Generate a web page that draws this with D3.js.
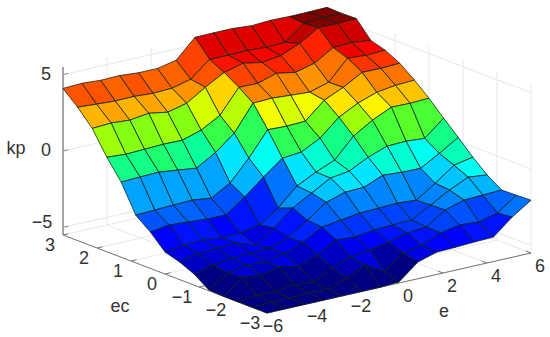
<!DOCTYPE html>
<html>
<head>
<meta charset="utf-8">
<script src="https://cdn.jsdelivr.net/npm/d3@7"></script>
<style>
html, body { margin: 0; padding: 0; background: #fff; }
text { font-family: "Liberation Sans", Arial, sans-serif; font-size: 18px; fill: #333; }
</style>
</head>
<body>
<svg id="chart" width="550" height="337"></svg>
<script>
var eGrid = [-6, -5.14, -4.29, -3.43, -2.57, -1.71, -0.86, 0, 0.86, 1.71, 2.57, 3.43, 4.29, 5.14, 6];
var ecGrid = [3, 2.57, 2.14, 1.71, 1.29, 0.86, 0.43, 0, -0.43, -0.86, -1.29, -1.71, -2.14, -2.57, -3];

// one row per ecGrid value, one column per eGrid value
var kpRows = [
    [4.1, 4.15, 4.07, 4.1, 4.0, 4.0, 4.26, 5.48, 5.5, 5.5, 5.4, 5.47, 5.44, 5.45, 5.48],
    [3.23, 3.15, 3.08, 3.1, 3.02, 3.07, 3.38, 4.4, 4.39, 4.43, 4.35, 4.4, 5.35, 5.47, 5.45],
    [2.21, 2.28, 2.19, 2.36, 2.15, 2.45, 3.22, 3.91, 4.23, 4.0, 4.17, 4.69, 5.45, 5.43, 5.48],
    [0.69, 0.6, 0.65, 0.7, 0.68, 1.06, 1.75, 3.3, 3.28, 3.66, 3.44, 3.75, 4.5, 4.56, 4.41],
    [-0.58, -0.53, -0.49, -0.64, -0.79, -0.05, 0.94, 2.62, 2.67, 2.58, 2.5, 2.87, 4.16, 4.07, 4.13],
    [-2.38, -2.33, -2.28, -2.24, -2.39, -1.68, -0.33, 1.25, 1.2, 1.25, 2.34, 2.9, 3.6, 3.58, 3.64],
    [-3.12, -2.94, -3.03, -3.11, -3.13, -2.23, -1.21, -0.25, -0.13, 0.5, 1.59, 2.23, 2.66, 2.84, 2.9],
    [-4.06, -3.89, -3.84, -3.99, -3.94, -3.7, -2.87, -1.7, -1.08, -0.57, 0.72, 1.48, 2.05, 2.03, 2.08],
    [-4.35, -4.04, -4.0, -3.95, -4.36, -3.53, -2.5, -1.8, -1.1, -0.92, -0.3, 0.15, 0.19, 0.1, 1.14],
    [-4.78, -4.47, -4.3, -4.25, -4.2, -3.8, -2.93, -2.04, -1.66, -1.62, -1.11, -1.2, -1.22, -0.52, 0.25],
    [-5.45, -4.62, -4.38, -4.47, -4.2, -3.72, -3.02, -2.84, -2.66, -2.62, -2.57, -2.66, -1.83, -0.93, -0.68],
    [-5.5, -4.58, -4.67, -4.43, -4.71, -4.2, -3.5, -3.58, -3.41, -3.36, -3.32, -2.62, -1.92, -1.35, -1.49],
    [-5.5, -5.33, -5.4, -5.2, -5.32, -4.68, -4.25, -4.07, -3.83, -3.52, -3.41, -2.58, -2.21, -2.16, -2.11],
    [-5.5, -5.45, -5.45, -5.4, -5.45, -4.98, -4.4, -5.1, -4.18, -3.94, -3.43, -3.19, -3.28, -2.97, -2.08],
    [-5.5, -5.5, -5.5, -5.5, -5.5, -5.5, -5.5, -5.43, -4.41, -4.04, -4.0, -3.94, -3.9, -2.87, -2.04]
];

var eTicks = [-6, -4, -2, 0, 2, 4, 6];
var ecTicks = [-3, -2, -1, 0, 1, 2, 3];
var kpTicks = [-5, 0, 5];
var eTickLabels = ['\u22126', '\u22124', '\u22122', '0', '2', '4', '6'];
var ecTickLabels = ['\u22123', '\u22122', '\u22121', '0', '1', '2', '3'];
var kpTickLabels = ['\u22125', '0', '5'];

var svg = d3.select('#chart');

// oblique projection: every data axis moves the point along a fixed screen direction
var eX = d3.scaleLinear().domain([-6, 6]).range([0, 264]);
var eY = d3.scaleLinear().domain([-6, 6]).range([0, -60]);
var ecX = d3.scaleLinear().domain([3, -3]).range([63, 267]);
var ecY = d3.scaleLinear().domain([3, -3]).range([235, 313]);
var kpY = d3.scaleLinear().domain([-5.5, 5.5]).range([0, -168]);

function project(e, ec, kp) {
    return [ecX(ec) + eX(e), ecY(ec) + eY(e) + kpY(kp)];
}

function line(points, color, width) {
    svg.append('path')
        .attr('d', d3.line()(points))
        .attr('fill', 'none')
        .attr('stroke', color)
        .attr('stroke-width', width);
}

// jet colormap, 64 levels. The greens of the reference are more saturated than plain jet
var jet = function(t) {
    var level = Math.min(63, Math.floor(t * 64)) / 63;
    var channel = function(c) { return Math.max(0, Math.min(1, 1.5 - Math.abs(4 * level - c))); };
    var r = channel(3), g = channel(2), b = channel(1);
    if (g >= 1) {
        r = r * r;
        b = b * b;
    }
    return d3.rgb(r * 255, g * 255, b * 255);
};
var colorScale = d3.scaleLinear().domain([-5.5, 5.5]).range([0, 1]).clamp(true);

var gridColor = '#e8e8e8';
var axisColor = '#8c8c8c';

// walls and floor
eTicks.forEach(function(e) {
    line([project(e, 3, -5.5), project(e, 3, 5.5)], gridColor, 1);
    line([project(e, -3, -5.5), project(e, 3, -5.5)], gridColor, 1);
});
ecTicks.forEach(function(ec) {
    line([project(6, ec, -5.5), project(6, ec, 5.5)], gridColor, 1);
    line([project(-6, ec, -5.5), project(6, ec, -5.5)], gridColor, 1);
});
kpTicks.forEach(function(kp) {
    line([project(-6, 3, kp), project(6, 3, kp), project(6, -3, kp)], gridColor, 1);
});

// axes
line([project(-6, 3, -5.5), project(-6, 3, 5.5)], axisColor, 1.5);
line([project(-6, 3, -5.5), project(-6, -3, -5.5)], '#777', 1);
line([project(-6, -3, -5.5), project(6, -3, -5.5)], '#777', 1);
kpTicks.forEach(function(kp) {
    line([project(-6, 3, kp), project(-5.75, 3, kp)], axisColor, 1);
});
ecTicks.forEach(function(ec) {
    line([project(-6, ec, -5.5), project(-5.75, ec, -5.5)], '#777', 1);
});
eTicks.forEach(function(e) {
    line([project(e, -3, -5.5), project(e, -2.85, -5.5)], '#777', 1);
});

// surface, far cells first
var cells = [];
d3.range(ecGrid.length - 1).forEach(function(j) {
    d3.range(eGrid.length - 2, -1, -1).forEach(function(i) {
        cells.push({i: i, j: j});
    });
});

svg.append('g').selectAll('path')
    .data(cells)
    .enter()
    .append('path')
    .attr('d', function(d) {
        var i = d.i, j = d.j;
        return d3.line()([
            project(eGrid[i], ecGrid[j], kpRows[j][i]),
            project(eGrid[i + 1], ecGrid[j], kpRows[j][i + 1]),
            project(eGrid[i + 1], ecGrid[j + 1], kpRows[j + 1][i + 1]),
            project(eGrid[i], ecGrid[j + 1], kpRows[j + 1][i])
        ]) + 'Z';
    })
    // the face takes the colour of its low e, low ec corner
    .attr('fill', function(d) { return jet(colorScale(kpRows[d.j + 1][d.i])); })
    .attr('stroke', 'rgba(10,30,20,0.75)')
    .attr('stroke-width', 1);

// tick labels
function label(x, y, txt) {
    svg.append('text')
        .attr('x', x)
        .attr('y', y)
        .attr('text-anchor', 'middle')
        .attr('dominant-baseline', 'central')
        .text(txt);
}

kpTicks.forEach(function(kp, idx) {
    var p = project(-6, 3, kp);
    label(p[0] - (kp < 0 ? 21 : 17), p[1] - 1 + (kp < 0 ? -4 : 0), kpTickLabels[idx]);
});
ecTicks.forEach(function(ec, idx) {
    var p = project(-6, ec, -5.5);
    label(p[0] - (ec < 0 ? 17 : 13), p[1] + 10, ecTickLabels[idx]);
});
eTicks.forEach(function(e, idx) {
    var p = project(e, -3, -5.5);
    label(p[0] + (e < 0 ? 6 : 9), p[1] + 13, eTickLabels[idx]);
});

label(16, 148, 'kp');
label(120, 306, 'ec');
label(444, 311, 'e');
</script>
</body>
</html>
